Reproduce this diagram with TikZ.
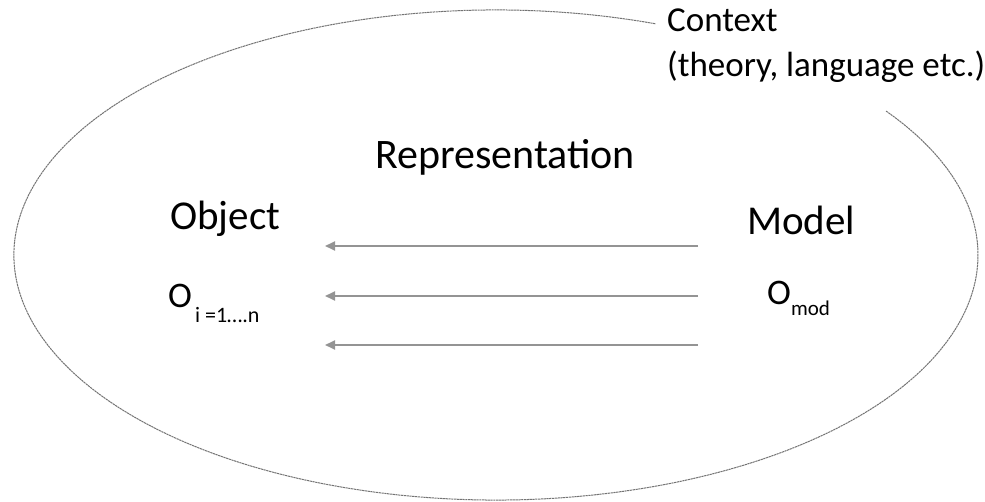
\documentclass[tikz,border=0pt]{standalone}
\usepackage{fontspec}
\setmainfont{Carlito}
\usetikzlibrary{arrows.meta}
\begin{document}
\begin{tikzpicture}[x=1pt,y=-1pt,
  ctxline/.style={draw=black!55, line width=1pt, dash pattern=on 2.2pt off 0.6pt},
  relarrow/.style={draw=black!42, line width=1.8pt, -{Triangle[length=10pt,width=9pt]}},
  bigtxt/.style={font=\fontsize{41}{48}\selectfont, inner sep=0pt, anchor=base west},
  midtxt/.style={font=\fontsize{42}{48}\selectfont, inner sep=0pt},
  otxt/.style={font=\fontsize{36}{44}\selectfont, inner sep=0pt, anchor=base west},
  ctxtxt/.style={font=\fontsize{35}{40}\selectfont, inner sep=0pt, anchor=base west, align=left}]
\useasboundingbox (0,0) rectangle (985,502);
% context ellipse (gap under the label)
\coordinate (ec) at (496,255);
\draw[ctxline] (ec) ++(70.7:482 and -245) arc[start angle=70.7, end angle=396, x radius=482, y radius=-245];
% labels
\node[ctxtxt] (ctx) at (667,32) {Context};
\node[ctxtxt] (ctx2) at (667,77) {(theory, language etc.)};
\node[midtxt, anchor=base] (rep) at (505,169) {Representation};
\node[bigtxt] (obj) at (170,230) {Object};
\node[bigtxt] (mod) at (747,235) {Model};
\node[otxt] (oi) at (168,308) {O\kern3pt\raisebox{-0.4em}{\fontsize{22}{24}\selectfont i =1….n}};
\node[otxt] (om) at (767,305) {O\raisebox{-0.3em}{\fontsize{21}{24}\selectfont mod}};
% arrows
\coordinate (m1) at (698,246); \coordinate (o1) at (325,246);
\coordinate (m2) at (698,296); \coordinate (o2) at (325,296);
\coordinate (m3) at (698,345); \coordinate (o3) at (325,345);
\draw[relarrow] (m1) -- (o1);
\draw[relarrow] (m2) -- (o2);
\draw[relarrow] (m3) -- (o3);
\end{tikzpicture}
\end{document}
